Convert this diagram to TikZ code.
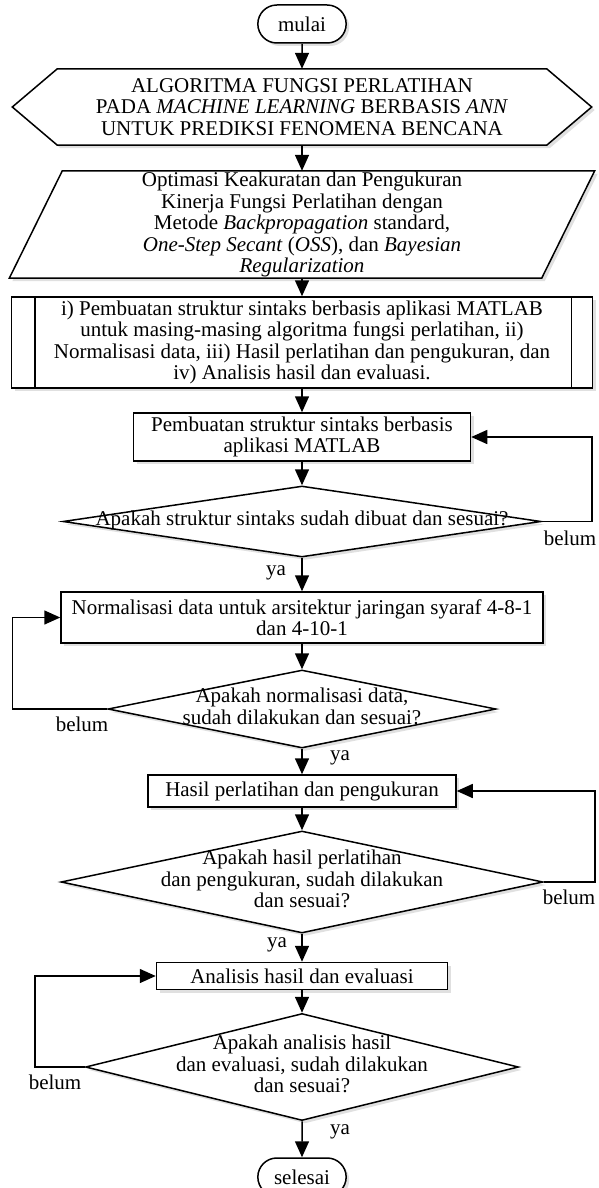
\documentclass[tikz,border=0pt]{standalone}
\usepackage{fontspec}
\setmainfont{Liberation Serif}
\usepackage{tikz}
\usetikzlibrary{arrows.meta,shapes.geometric,shapes.misc,shadows,backgrounds}

\tikzset{
	garis/.style={line width=1.5pt},
	bayang/.style={drop shadow={shadow xshift=3pt,shadow yshift=-3pt,fill=black!12,opacity=1}},
	terminal/.style={garis,draw,fill=white,bayang,rounded rectangle,minimum width=95pt,minimum height=38pt},
	proses/.style={garis,draw,fill=white,bayang,align=center,inner sep=0pt},
	keputusan/.style={garis,draw,fill=white,bayang,diamond,inner sep=0pt},
	panah/.style={garis,-{Triangle[length=16pt,width=14pt]}},
	every node/.style={font=\fontsize{21pt}{21.5pt}\selectfont}
}
\newcommand{\teksbelah}[1]{\makebox[0pt]{\begin{tabular}{@{}c@{}}#1\end{tabular}}}

\begin{document}
\begin{tikzpicture}[x=1pt,y=-1pt]
	\clip (0,0) rectangle (598,1188);
	%\draw[help lines,step=10] (0,0) grid (598,1188);
	\node[terminal] (mulai) at (302,24) {mulai};
	\node[minimum width=579pt,minimum height=76pt,inner sep=0pt,align=center] (judul) at (302,107) {ALGORITMA FUNGSI PERLATIHAN\\PADA \textit{MACHINE LEARNING} BERBASIS \textit{ANN}\\UNTUK PREDIKSI FENOMENA BENCANA};
	\node[minimum width=585pt,minimum height=107pt,inner sep=0pt,align=center] (metode) at (302,224.5) {Optimasi Keakuratan dan Pengukuran\\Kinerja Fungsi Perlatihan dengan\\Metode \textit{Backpropagation} standard,\\\textit{One-Step Secant} (\textit{OSS}), dan \textit{Bayesian}\\\textit{Regularization}};
	\begin{scope}[on background layer]
		\draw[garis,fill=white,bayang] (judul.west) -- ([xshift=45pt]judul.north west) -- ([xshift=-45pt]judul.north east) -- (judul.east) -- ([xshift=-45pt]judul.south east) -- ([xshift=45pt]judul.south west) -- cycle;
		\draw[garis,fill=white,bayang] ([xshift=53pt]metode.north west) -- (metode.north east) -- ([xshift=-53pt]metode.south east) -- (metode.south west) -- cycle;
	\end{scope}
	
	\node[proses,minimum width=581pt,minimum height=91pt] (tahapan) at (302,342.5) {i) Pembuatan struktur sintaks berbasis aplikasi MATLAB\\untuk masing-masing algoritma fungsi perlatihan, ii)\\Normalisasi data, iii) Hasil perlatihan dan pengukuran, dan\\iv) Analisis hasil dan evaluasi.};
	\draw[garis] ([xshift=24pt]tahapan.north west) -- ([xshift=24pt]tahapan.south west);
	\draw[garis] ([xshift=-22pt]tahapan.north east) -- ([xshift=-22pt]tahapan.south east);
	
	\node[proses,minimum width=337pt,minimum height=48pt] (buat) at (302,437) {Pembuatan struktur sintaks berbasis\\aplikasi MATLAB};
	\node[keputusan,minimum width=478pt,minimum height=71pt] (cek1) at (302,521.5) {\teksbelah{Apakah struktur sintaks sudah dibuat dan sesuai?}};
	\node[proses,minimum width=482pt,minimum height=51pt] (normal) at (302,617.5) {Normalisasi data untuk arsitektur jaringan syaraf 4-8-1\\dan 4-10-1};
	\node[keputusan,minimum width=388pt,minimum height=78pt] (cek2) at (302,709) {\teksbelah{Apakah normalisasi data,\\sudah dilakukan dan sesuai?}};
	\node[proses,minimum width=308pt,minimum height=32pt] (hasil) at (302,791) {Hasil perlatihan dan pengukuran};
	\node[keputusan,minimum width=482pt,minimum height=102pt] (cek3) at (302,882) {\teksbelah{Apakah hasil perlatihan\\dan pengukuran, sudah dilakukan\\dan sesuai?}};
	\node[proses,minimum width=291pt,minimum height=27pt] (analisis) at (302,976) {Analisis hasil dan evaluasi};
	\node[keputusan,minimum width=433pt,minimum height=107pt] (cek4) at (302,1067) {\teksbelah{Apakah analisis hasil\\dan evaluasi, sudah dilakukan\\dan sesuai?}};
	\node[terminal] (selesai) at (302,1177) {selesai};
	
	\draw[panah] (mulai) -- (judul);
	\draw[panah] (judul) -- (metode);
	\draw[panah] (metode) -- (tahapan);
	\draw[panah] (tahapan) -- (buat);
	\draw[panah] (buat) -- (cek1);
	\draw[panah] (cek1) -- (normal);
	\draw[panah] (normal) -- (cek2);
	\draw[panah] (cek2) -- (hasil);
	\draw[panah] (hasil) -- (cek3);
	\draw[panah] (cek3) -- (analisis);
	\draw[panah] (analisis) -- (cek4);
	\draw[panah] (cek4) -- (selesai);
	
	% jalur belum
	\draw[panah] (cek1.east) -- ++(50,0) |- (buat.east);
	\draw[panah] (cek2.west) -- ++(-95,0) |- (normal.west);
	\draw[panah] (cek3.east) -- ++(51,0) |- (hasil.east);
	\draw[panah] (cek4.west) -- ++(-50,0) |- (analisis.west);
	
	\node (belum1) at (570,538) {belum};
	\node (belum2) at (82,724) {belum};
	\node (belum3) at (569,897) {belum};
	\node (belum4) at (55,1082) {belum};
	\node (ya1) at (276,573) {ya};
	\node (ya2) at (340,758) {ya};
	\node (ya3) at (277,945) {ya};
	\node (ya4) at (340,1132) {ya};
\end{tikzpicture}
\end{document}
